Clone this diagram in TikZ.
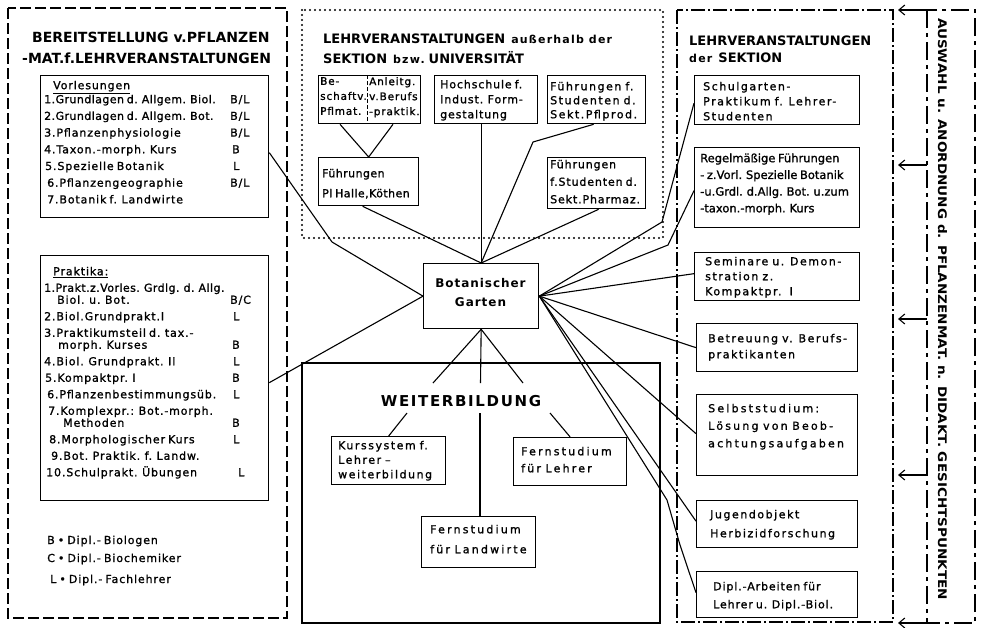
\documentclass[tikz,border=0pt]{standalone}
\usepackage{fontspec}
\usepackage{graphicx}
\setmainfont{DejaVu Sans}
\newfontfamily\lsN[WordSpace=0.7,FakeBold=1.2]{DejaVu Sans}
\newfontfamily\lsS[LetterSpace=4,WordSpace=0.7,FakeBold=1.2]{DejaVu Sans}
\newfontfamily\lsA[LetterSpace=8,WordSpace=0.7,FakeBold=1.2]{DejaVu Sans}
\newfontfamily\lsB[LetterSpace=14,WordSpace=0.8,FakeBold=1.2]{DejaVu Sans}
\newfontfamily\lsC[LetterSpace=20,WordSpace=0.8,FakeBold=1.2]{DejaVu Sans}
\newfontfamily\lsW[LetterSpace=11]{DejaVu Sans}
\newfontfamily\lsX[LetterSpace=8]{DejaVu Sans}
\usetikzlibrary{arrows.meta,calc}
\tikzset{
  frm/.style={line width=1.7pt},
  bx/.style={draw, line width=1.3pt, rectangle, anchor=north west, inner sep=0pt},
  tx/.style={anchor=north west, inner sep=0pt, align=left},
  con/.style={line width=1.1pt},
  ttl/.style={anchor=base west, inner sep=0pt},
}
\begin{document}
\begin{tikzpicture}[x=1pt,y=-1pt]
\useasboundingbox (0,0) rectangle (984,627);
\fill[white] (0,0) rectangle (984,627);

% ---------- frames ----------
\draw[frm, dash pattern=on 11pt off 4pt] (8,8) rectangle (287,618);
\draw[line width=2.2pt, line cap=round, dash pattern=on 0pt off 5pt] (302,10) rectangle (663,238);
\draw[frm, line width=2pt] (302,363) rectangle (660,623);
\draw[frm, line width=1.4pt, dash pattern=on 14pt off 3pt on 2pt off 3pt] (677,10) rectangle (893,622);
\draw[frm, line width=1.5pt, dash pattern=on 18pt off 5pt on 4pt off 5pt] (927,10) rectangle (975,623);

% ---------- titles ----------
\node[ttl, font=\bfseries\fontsize{14}{16}\selectfont] (t1a) at (32,42) {BEREITSTELLUNG v.PFLANZEN};
\node[ttl, font=\bfseries\fontsize{14}{16}\selectfont] (t1b) at (22,63) {-MAT.f.LEHRVERANSTALTUNGEN};
\node[ttl, font=\bfseries\fontsize{13}{15}\selectfont] (t2a) at (323,43) {LEHRVERANSTALTUNGEN\hspace{6pt}{\lsW\bfseries\fontsize{11}{15}\selectfont außerhalb der}};
\node[ttl, font=\bfseries\fontsize{13}{15}\selectfont] (t2b) at (323,63) {SEKTION\hspace{6pt}{\lsW\bfseries\fontsize{11}{15}\selectfont bzw.}\hspace{4pt}UNIVERSITÄT};
\node[ttl, font=\bfseries\fontsize{13}{15}\selectfont] (t3a) at (689,45) {LEHRVERANSTALTUNGEN};
\node[ttl, font=\bfseries\fontsize{13}{15}\selectfont] (t3b) at (689,62) {{\lsW\bfseries\fontsize{11}{15}\selectfont der}\hspace{6pt}SEKTION};
\node[rotate=-90, inner sep=0pt] (vt) at (942.5,309) {\resizebox{582pt}{9pt}{\bfseries AUSWAHL u. ANORDNUNG d. PFLANZENMAT. n. DIDAKT. GESICHTSPUNKTEN}};

% ---------- boxes ----------
\node[bx, minimum width=228pt, minimum height=142pt] (vorl) at (40,75) {};
\node[bx, minimum width=228pt, minimum height=245pt] (prak) at (40,255) {};
\node[bx, minimum width=102pt, minimum height=48pt] (be) at (318,75) {};
\node[bx, minimum width=103pt, minimum height=48pt] (hoch) at (434,75) {};
\node[bx, minimum width=98pt, minimum height=48pt] (pflp) at (547,75) {};
\node[bx, minimum width=100pt, minimum height=48pt] (fpl) at (318,157) {};
\node[bx, minimum width=98pt, minimum height=51pt] (pharm) at (547,157) {};
\node[bx, minimum width=115pt, minimum height=65pt] (bot) at (423,263) {};
\node[bx, minimum width=114pt, minimum height=48pt] (kurs) at (331,436) {};
\node[bx, minimum width=113pt, minimum height=48pt] (fern1) at (513,437) {};
\node[bx, minimum width=114pt, minimum height=51pt] (fern2) at (421,516) {};
\node[bx, minimum width=165pt, minimum height=49pt] (schul) at (694,75) {};
\node[bx, minimum width=165pt, minimum height=80pt] (regel) at (694,147) {};
\node[bx, minimum width=165pt, minimum height=48pt] (sem) at (694,252) {};
\node[bx, minimum width=161pt, minimum height=48pt] (betr) at (696,323) {};
\node[bx, minimum width=161pt, minimum height=81pt] (selb) at (696,394) {};
\node[bx, minimum width=161pt, minimum height=47pt] (jug) at (696,500) {};
\node[bx, minimum width=161pt, minimum height=46pt] (dipl) at (696,571) {};
\draw[line width=1pt, dash pattern=on 4pt off 2pt] ($(be.north west)+(49,0)$) -- ($(be.south west)+(49,0)$);

% ---------- texts ----------
\node[tx, font=\lsA\fontsize{11}{16.7}\selectfont] (vorlt) at (44,77.3) {%
\begin{tabular}{@{}l@{}l@{}}
\makebox[185pt][l]{\hspace*{9pt}\underline{Vorlesungen}} & \\[-2.7pt]
\makebox[185pt][l]{\lsS 1.Grundlagen d. Allgem. Biol.} & \hspace*{1pt}B/L\\
\makebox[185pt][l]{\lsS 2.Grundlagen d. Allgem. Bot.} & \hspace*{1pt}B/L\\
\makebox[185pt][l]{3.Pflanzenphysiologie} & \hspace*{1pt}B/L\\
\makebox[185pt][l]{4.Taxon.-morph. Kurs} & \hspace*{3pt}B\\
\makebox[185pt][l]{\hspace*{1pt}5.Spezielle Botanik} & \hspace*{4pt}L\\
\makebox[185pt][l]{\hspace*{3pt}6.Pflanzengeographie} & \hspace*{1pt}B/L\\
\makebox[185pt][l]{\hspace*{3pt}7.Botanik f. Landwirte} &
\end{tabular}};

\node[tx, font=\lsA\fontsize{11}{16.5}\selectfont] (prakt) at (44,263.5) {%
\begin{tabular}{@{}l@{}l@{}}
\makebox[185pt][l]{\hspace*{9pt}\underline{Praktika:}} & \\
\makebox[185pt][l]{\lsS 1.Prakt.z.Vorles. Grdlg. d. Allg.} & \\[-4.5pt]
\makebox[185pt][l]{\hspace*{13pt}Biol. u. Bot.} & \hspace*{1pt}B/C\\
\makebox[185pt][l]{2.Biol.Grundprakt.I} & \hspace*{4pt}L\\
\makebox[185pt][l]{3.Praktikumsteil d. tax.-} & \\[-4.5pt]
\makebox[185pt][l]{\hspace*{14pt}morph. Kurses} & \hspace*{3pt}B\\
\makebox[185pt][l]{4.Biol. Grundprakt. II} & \hspace*{4pt}L\\
\makebox[185pt][l]{\hspace*{1pt}5.Kompaktpr. I} & \hspace*{3pt}B\\
\makebox[185pt][l]{\hspace*{3pt}6.Pflanzenbestimmungsüb.} & \hspace*{4pt}L\\
\makebox[185pt][l]{\hspace*{4pt}7.Komplexpr.: Bot.-morph.} & \\[-4.5pt]
\makebox[185pt][l]{\hspace*{19pt}Methoden} & \hspace*{3pt}B\\
\makebox[185pt][l]{\hspace*{5pt}8.Morphologischer Kurs} & \hspace*{4pt}L\\
\makebox[185pt][l]{\hspace*{7pt}9.Bot. Praktik. f. Landw.} & \\
\makebox[185pt][l]{\hspace*{2pt}10.Schulprakt. Übungen} & \hspace*{9pt}L
\end{tabular}};

\node[ttl, font=\lsA\fontsize{11}{13}\selectfont] (lgB) at (47,544) {B • Dipl.- Biologen};
\node[ttl, font=\lsA\fontsize{11}{13}\selectfont] (lgC) at (47,562) {C • Dipl.- Biochemiker};
\node[ttl, font=\lsA\fontsize{11}{13}\selectfont] (lgL) at (50,583) {L • Dipl.- Fachlehrer};

\node[tx, font=\lsA\fontsize{10.5}{15}\selectfont] (bet1) at (320,77) {Be-\\schaftv.\\Pflmat.};
\node[tx, font=\lsA\fontsize{10.5}{15}\selectfont] (bet2) at (369,77) {Anleitg.\\v.Berufs\\-praktik.};
\node[tx, font=\lsA\fontsize{11}{15}\selectfont] (hocht) at (440,79.7) {Hochschule f.\\Indust. Form-\\gestaltung};
\node[tx, font=\lsB\fontsize{11}{14}\selectfont] (pflpt) at (550,81.7) {Führungen f.\\Studenten d.\\Sekt.Pflprod.};
\node[tx, font=\lsS\fontsize{11}{20}\selectfont] (fplt) at (322,168.7) {Führungen\\Pl Halle,Köthen};
\node[tx, font=\lsA\fontsize{11}{17.5}\selectfont] (pharmt) at (550,159.7) {Führungen\\f.Studenten d.\\Sekt.Pharmaz.};
\node[anchor=north, inner sep=0pt, align=center, font=\lsX\bfseries\fontsize{12}{19}\selectfont] (bott) at (480.5,277.9) {Botanischer\\Garten};
\node[anchor=base, inner sep=0pt, font=\lsW\bfseries\fontsize{15}{18}\selectfont] (wb) at (461,406) {WEITERBILDUNG};
\node[tx, font=\lsB\fontsize{11}{14.5}\selectfont] (kurst) at (338,440.7) {Kurssystem f.\\Lehrer –\\weiterbildung};
\node[tx, font=\lsC\fontsize{11}{17}\selectfont] (fern1t) at (521,446.7) {Fernstudium\\für Lehrer};
\node[tx, font=\lsC\fontsize{11}{20}\selectfont] (fern2t) at (430,524.7) {Fernstudium\\für Landwirte};
\node[tx, font=\lsB\fontsize{11}{15}\selectfont] (schult) at (703,81.7) {Schulgarten-\\Praktikum f. Lehrer-\\Studenten};
\node[tx, font=\lsN\fontsize{11.5}{16.7}\selectfont] (regelt) at (700,153.3) {Regelmäßige Führungen\\- z.Vorl. Spezielle Botanik\\-u.Grdl. d.Allg. Bot. u.zum\\-taxon.-morph. Kurs};
\node[tx, font=\lsB\fontsize{11}{15}\selectfont] (semt) at (705,256.7) {Seminare u. Demon-\\stration z.\\Kompaktpr.\ \ I};
\node[tx, font=\lsB\fontsize{11}{16}\selectfont] (betrt) at (708,333.7) {Betreuung v. Berufs-\\praktikanten};
\node[tx, font=\lsC\fontsize{11}{17.5}\selectfont] (selbt) at (708,403.7) {Selbststudium:\\Lösung von Beob-\\achtungsaufgaben};
\node[tx, font=\lsB\fontsize{11}{19}\selectfont] (jugt) at (710,509.7) {Jugendobjekt\\Herbizidforschung};
\node[tx, font=\lsA\fontsize{11}{18}\selectfont] (diplt) at (713,581.7) {Dipl.-Arbeiten für\\Lehrer u. Dipl.-Biol.};

% ---------- connectors ----------
\coordinate (c1) at (332,242);
\draw[con] ($(vorl.east)+(0,6)$) -- (c1) -- (bot.west);
\draw[con] ($(prak.east)+(0,4.5)$) -- (bot.west);

\coordinate (c2) at (662,222);
\coordinate (c3) at (668,245);
\coordinate (c4) at (667,500);
\coordinate (c5) at (680,545);
\draw[con] (bot.east) -- (c2) -- ($(schul.west)+(0,3)$);
\draw[con] (bot.east) -- (c3) -- ($(regel.west)+(0,3)$);
\draw[con] (bot.east) -- ($(sem.west)+(0,-3)$);
\draw[con] (bot.east) -- (betr.west);
\draw[con] (bot.east) -- ($(selb.west)+(0,-1.5)$);
\draw[con] (bot.east) -- ($(jug.west)+(0,-3)$);
\draw[con] (bot.east) -- (c4) -- (c5) -- ($(dipl.west)+(0,-2)$);

\coordinate (c6) at (533,142);
\draw[con] ($(be.south west)+(22,0)$) -- (fpl.north) -- ($(be.south west)+(75,0)$);
\draw[con] ($(fpl.south)+(-6,0)$) -- (bot.north);
\draw[con] (bot.north |- hoch.south) -- (bot.north);
\draw[con] ($(pflp.south)+(-3,0)$) -- (c6) -- (bot.north);
\draw[con] ($(pharm.south)+(2,0)$) -- (bot.north);

\coordinate (w1) at (433,383);
\coordinate (w2) at (480.5,383);
\coordinate (w3) at (523,383);
\draw[con] (w1) -- (bot.south) -- (w3);
\draw[con] (bot.south) -- (w2);
\coordinate (w4) at (407,413);
\coordinate (w5) at (480,413);
\coordinate (w6) at (550,413);
\draw[con] (w4) -- (kurs.north);
\draw[con] (w5) -- (w5 |- fern2.north);
\draw[con] (w6) -- (fern1.north);

\foreach \yy [count=\i] in {10,165,319,475,623} {
  \coordinate (as\i) at (927,\yy);
  \coordinate (ae\i) at (898,\yy);
  \draw[con, -{Straight Barb[length=6pt,width=10pt]}] (as\i) -- (ae\i);
}
\end{tikzpicture}
\end{document}
